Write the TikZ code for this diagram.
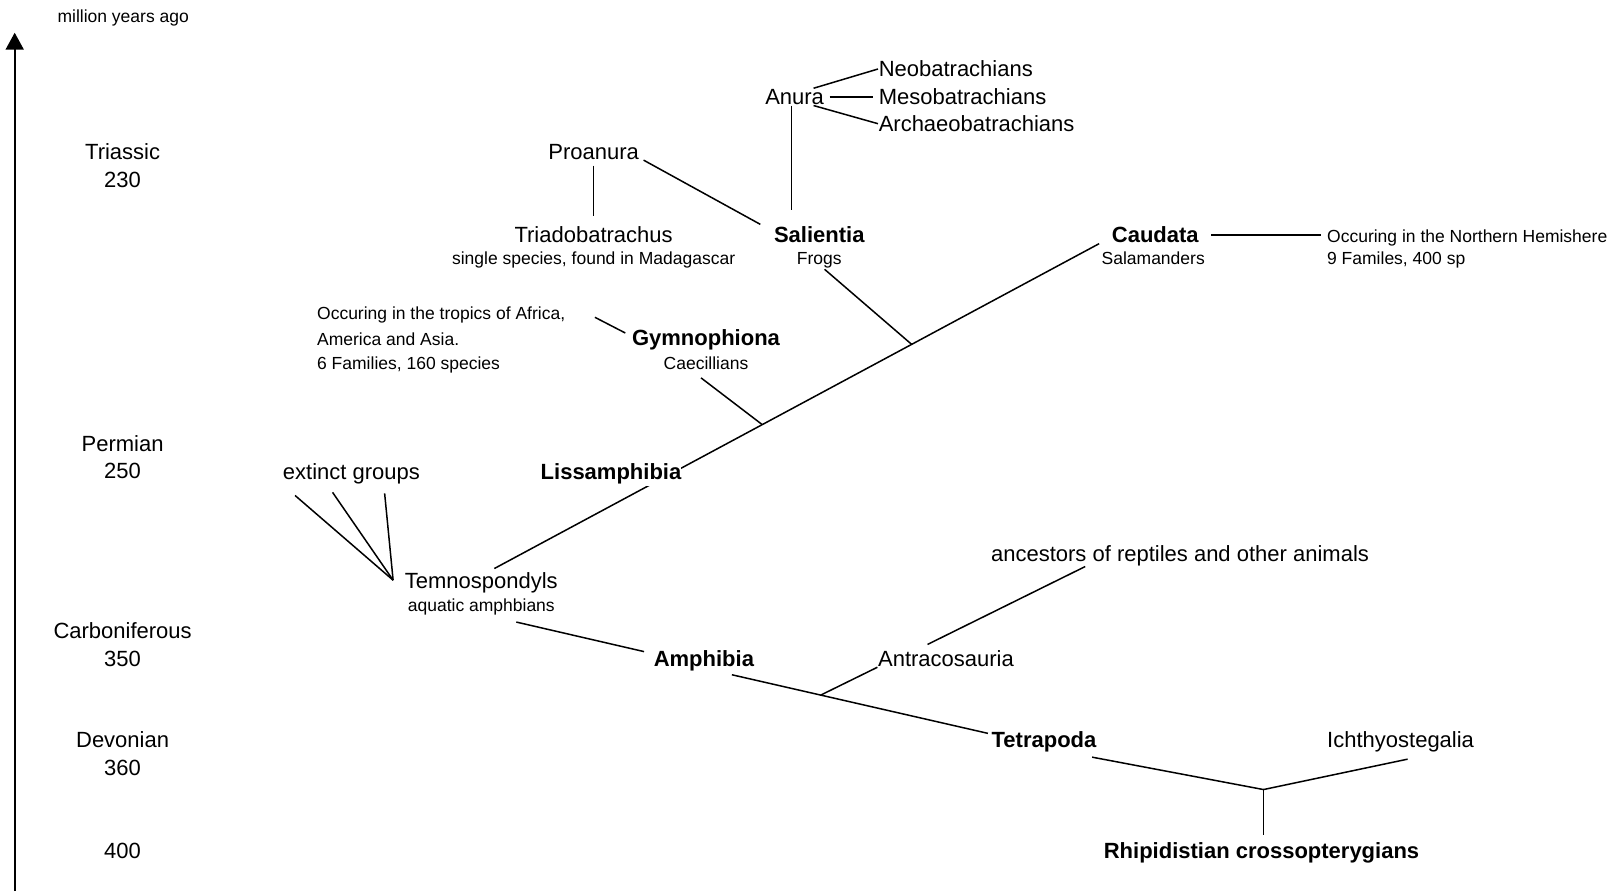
\documentclass[tikz,border=0pt]{standalone}
\usepackage{fontspec}
\setmainfont{Liberation Sans}
\usetikzlibrary{calc,arrows.meta}
\newcommand{\cladefont}{\fontsize{22}{26}\selectfont}
\newcommand{\notefont}{\fontsize{17.5}{21}\selectfont}

\begin{document}
\begin{tikzpicture}[x=1pt,y=-1pt,line width=1.5pt,
  lbl/.style={font=\cladefont,inner sep=0pt,text height=15.8pt,text depth=0pt},
  clade/.style={lbl,font=\cladefont\bfseries},
  sub/.style={font=\notefont,inner sep=0pt,text height=12.6pt,text depth=0pt}]
\useasboundingbox (0,0) rectangle (1616,891);

% time axis
\coordinate (axbot) at (14.7,891);
\coordinate (axtop) at (14.7,32.7);
\draw[line width=2pt,-{Triangle[length=17pt,width=18pt]}] (axbot)--(axtop);
\node[sub] (mya) at (123.2,16.5) {million years ago};

\node[lbl] (triassic) at (122.6,151.5) {Triassic};
\node[lbl] (t230) at (122.6,179.3) {230};
\node[lbl] (permian) at (122.6,443.2) {Permian};
\node[lbl] (t250) at (122.6,471) {250};
\node[lbl] (carbon) at (122.6,630.7) {Carboniferous};
\node[lbl] (t350) at (122.6,658.6) {350};
\node[lbl] (devon) at (122.6,740) {Devonian};
\node[lbl] (t360) at (122.6,767.8) {360};
\node[lbl] (t400) at (122.6,850.2) {400};

% frogs
\node[lbl,anchor=west] (neo) at (878,69) {Neobatrachians};
\node[lbl,anchor=west] (meso) at (878,96.9) {Mesobatrachians};
\node[lbl,anchor=west] (archaeo) at (878,123.7) {Archaeobatrachians};
\node[lbl] (anura) at (794.6,96.9) {Anura};
\node[lbl] (pro) at (593.6,151.5) {Proanura};
\node[lbl] (triado) at (593.6,235) {Triadobatrachus};
\node[sub] (triadosub) at (593.6,257.7) {single species, found in Madagascar};
\node[clade] (sal) at (819.3,235) {Salientia};
\node[sub] (frogs) at (819.3,257.7) {Frogs};

\draw ([xshift=4pt]anura.30)--(neo.west);
\draw[shorten <=5pt,shorten >=5pt] (anura.east)--(meso.west);
\draw ([xshift=4pt]anura.-30)--(archaeo.west);
\draw[shorten >=16pt] ([xshift=-3pt]anura.south)--([xshift=-3pt]anura.south |- sal.north);
\draw[shorten <=5.5pt,shorten >=10.7pt] (pro.south)--(triado.north);
\draw ([xshift=4pt]pro.south east)--([xshift=-13pt,yshift=2pt]sal.north west);

% salamanders
\node[clade] (caud) at (1155.3,235) {Caudata};
\node[sub] (salam) at (1153.2,257.7) {Salamanders};
\node[sub,anchor=west] (cnote) at (1326.4,236) {Occuring in the Northern Hemishere};
\node[sub,anchor=west] (cnote2) at (1326.4,257.7) {9 Familes, 400 sp};
\draw[shorten <=12pt,shorten >=5pt] (caud.east)--(caud.east -| cnote.west);

% caecilians
\node[clade] (gymno) at (706,338) {Gymnophiona};
\node[sub] (caec) at (706,362.8) {Caecillians};
\node[sub,anchor=west] (gnote) at (316.4,313.3) {Occuring in the tropics of Africa,};
\node[sub,anchor=west] (gnote2) at (316.4,339) {America and Asia.};
\node[sub,anchor=west] (gnote3) at (316.4,362.8) {6 Families, 160 species};
\draw ([xshift=29pt,yshift=-4pt]gnote.east)--([xshift=-6pt,yshift=5pt]gymno.west);

% temnospondyls
\node[lbl] (temno) at (481.3,580.2) {Temnospondyls};
\node[sub] (aqua) at (481.3,605) {aquatic amphbians};
\node[lbl] (ext) at (351.4,472) {extinct groups};
\coordinate (extend) at ([xshift=-11pt]temno.west);
\draw ([yshift=-14.8pt]$(ext.south west)!0.093!(ext.south east)$)--(extend);
\draw ([yshift=-11.7pt]$(ext.south west)!0.364!(ext.south east)$)--(extend);
\draw ([yshift=-12.7pt]$(ext.south west)!0.74!(ext.south east)$)--(extend);

% lissamphibia
\coordinate (lisbot) at ([xshift=13pt,yshift=3pt]temno.north);
\coordinate (listop) at ([xshift=-12pt]caud.south west);
\coordinate (gymfork) at ($(lisbot)!0.443!(listop)$);
\coordinate (salfork) at ($(lisbot)!0.69!(listop)$);
\draw (lisbot)--(listop);
\draw ([xshift=-5pt,yshift=-8pt]caec.south)--(gymfork);
\draw[shorten <=7pt] (frogs.south)--(salfork);
\node[clade,fill=white,text depth=6pt,anchor=base] (lis) at (611,479.5) {Lissamphibia};

% amphibia and tetrapoda
\node[clade] (amph) at (703.9,658.6) {Amphibia};
\node[lbl] (antr) at (946,658.6) {Antracosauria};
\node[lbl] (anc) at (1180,553.4) {ancestors of reptiles and other animals};
\node[clade] (tet) at (1044,740) {Tetrapoda};
\node[lbl] (icht) at (1400.6,740) {Ichthyostegalia};
\node[clade] (rhip) at (1261.5,850.2) {Rhipidistian crossopterygians};

\draw ([xshift=35pt,yshift=-10pt]aqua.south)--([xshift=-9pt,yshift=7pt]amph.west);
\coordinate (amphbot) at ([xshift=28pt,yshift=-7.5pt]amph.south);
\coordinate (tettop) at ([xshift=-3pt,yshift=-2pt]tet.north west);
\coordinate (antfork) at ($(amphbot)!0.347!(tettop)$);
\draw (amphbot)--(tettop);
\draw (antfork)--(antr.south west);
\draw ([xshift=-18.5pt,yshift=5.5pt]antr.north)--([yshift=-4.5pt]$(anc.south west)!0.25!(anc.south east)$);

\coordinate (fork) at ([xshift=2pt,yshift=52pt]rhip.north);
\draw ([xshift=-5pt,yshift=-8.5pt]tet.south east)--(fork)--([xshift=7pt,yshift=-10.5pt]icht.south);
\draw (fork)--([xshift=2pt,yshift=6.5pt]rhip.north);
\end{tikzpicture}
\end{document}
